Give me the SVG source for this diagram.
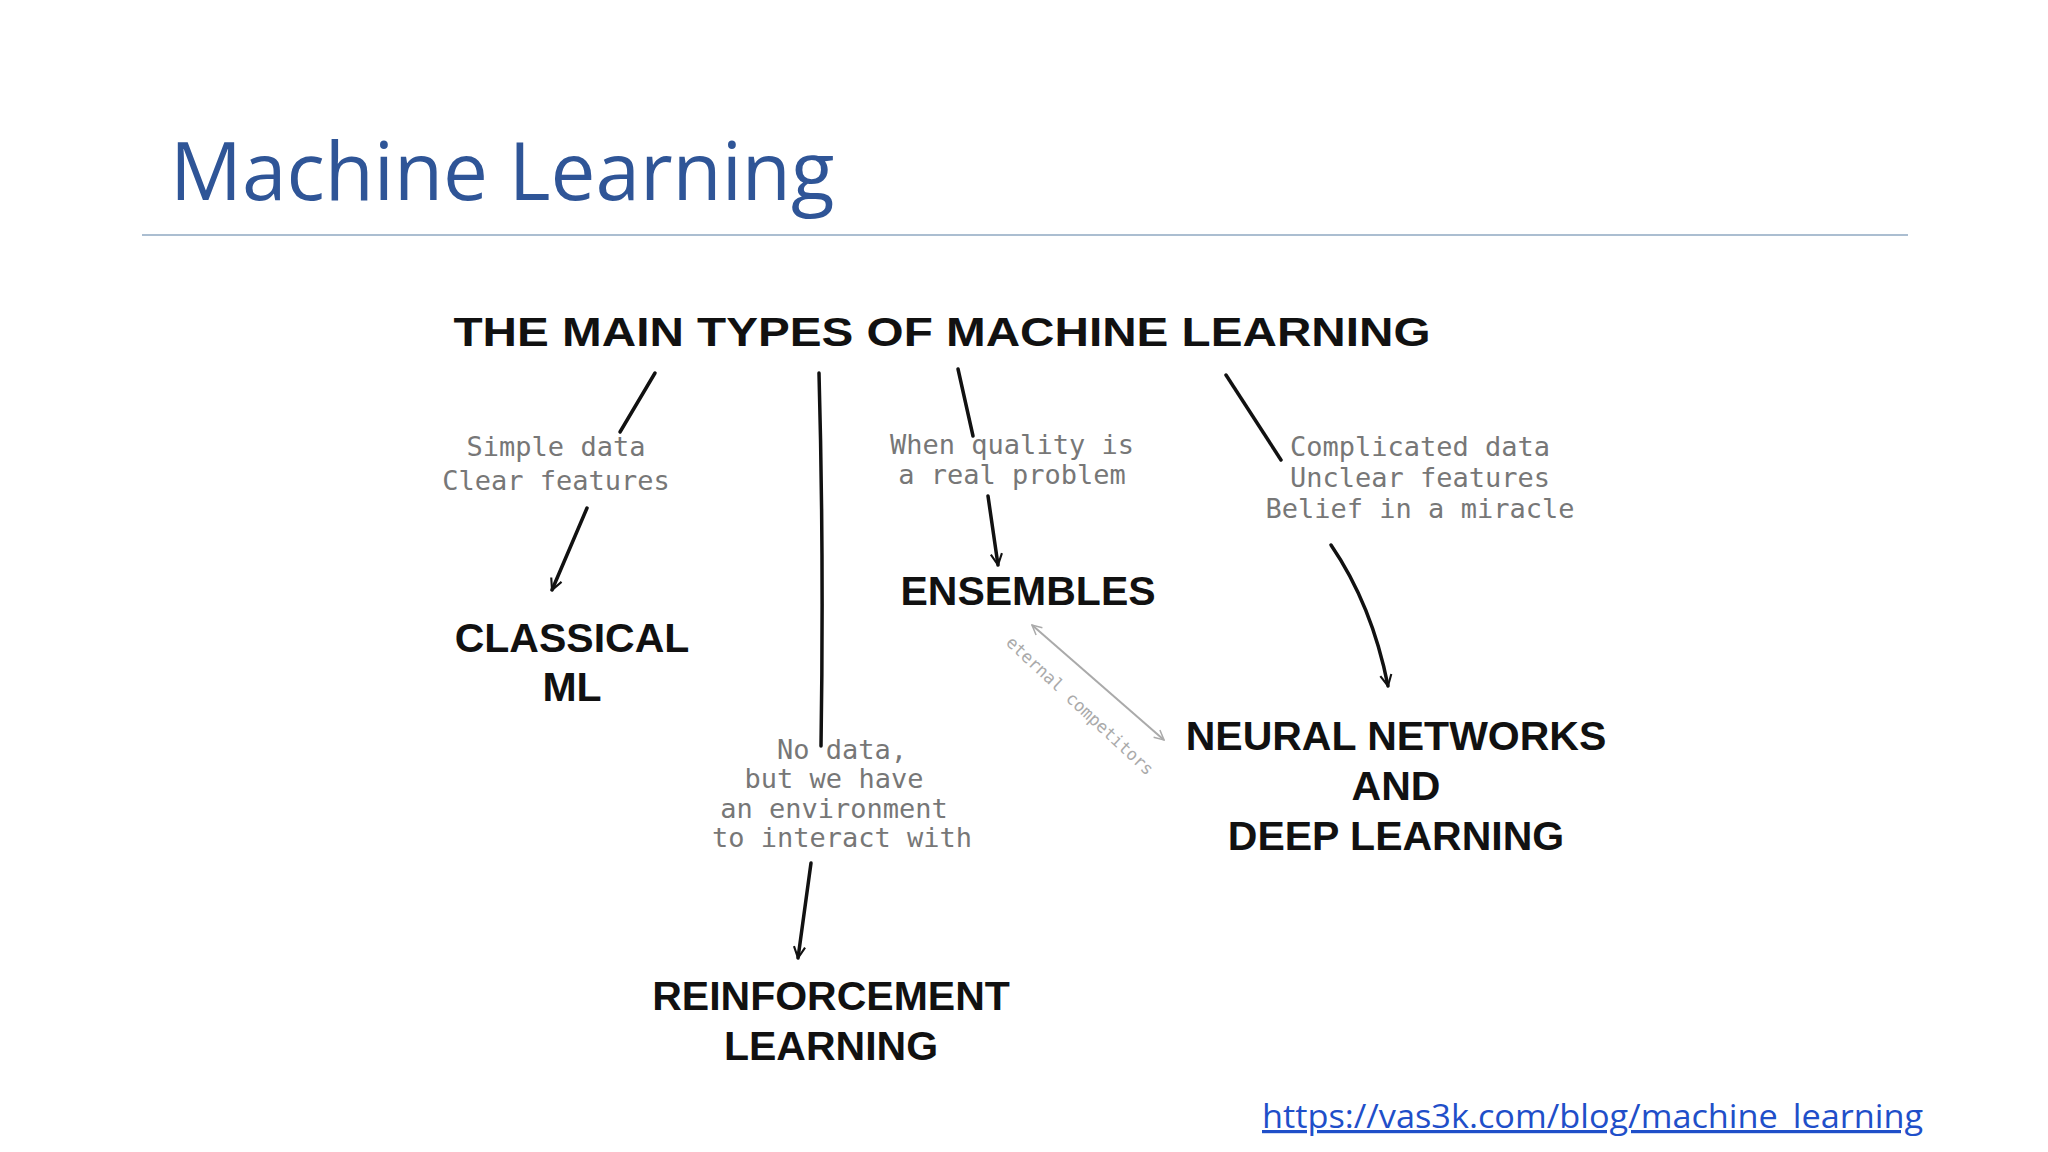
<svg xmlns="http://www.w3.org/2000/svg" width="2048" height="1152" viewBox="0 0 2048 1152">
<defs>
<style>
.h{font-family:"Liberation Sans",Arial,sans-serif;font-weight:bold;font-size:41px;fill:#111;text-anchor:middle}
.g{font-family:"DejaVu Sans Mono","Liberation Mono",monospace;font-size:27px;fill:#777;text-anchor:middle}
.ln{fill:none;stroke:#111;stroke-width:3.5;stroke-linecap:round}
</style>
<marker id="a" viewBox="0 0 20 20" refX="18" refY="10" markerWidth="14" markerHeight="14" markerUnits="userSpaceOnUse" orient="auto"><path d="M2 2 L18 10 L2 18" fill="none" stroke="#111" stroke-width="3"/></marker>
<marker id="b" viewBox="0 0 20 20" refX="18" refY="10" markerWidth="12" markerHeight="12" markerUnits="userSpaceOnUse" orient="auto-start-reverse"><path d="M2 2 L18 10 L2 18" fill="none" stroke="#aaa" stroke-width="2.5"/></marker>
</defs>
<rect width="2048" height="1152" fill="#fff"/>
<text x="170" y="200" font-family="'Open Sans','Noto Sans',sans-serif" font-size="80" fill="#2F5597">Machine Learning</text>
<line x1="142" y1="235" x2="1908" y2="235" stroke="#8FA9C2" stroke-width="1.5"/>
<g id="title"><text class="h" x="942" y="346" font-size="45" textLength="977" lengthAdjust="spacingAndGlyphs">THE MAIN TYPES OF MACHINE LEARNING</text></g>
<g id="connectors">
<path class="ln" d="M655 373 L620 432"/>
<path class="ln" d="M587 508 L552 590" marker-end="url(#a)"/>
<path class="ln" d="M819 373 Q824 555 821 746"/>
<path class="ln" d="M811 863 L798 958" marker-end="url(#a)"/>
<path class="ln" d="M958 369 L973 436"/>
<path class="ln" d="M988 496 L998 565" marker-end="url(#a)"/>
<path class="ln" d="M1226 375 L1281 460"/>
<path class="ln" d="M1331 545 Q1372 605 1388 686" marker-end="url(#a)"/>
<path d="M1032 625 L1164 740" stroke="#aaa" stroke-width="2" fill="none" marker-start="url(#b)" marker-end="url(#b)"/>
</g>
<g id="classical">
<text class="g" x="556" y="456">Simple data</text>
<text class="g" x="556" y="490">Clear features</text>
<text class="h" x="572" y="652">CLASSICAL</text>
<text class="h" x="572" y="701">ML</text>
</g>
<g id="reinforcement">
<text class="g" x="842" y="759">No data,</text>
<text class="g" x="834" y="788">but we have</text>
<text class="g" x="834" y="818">an environment</text>
<text class="g" x="842" y="847">to interact with</text>
<text class="h" x="831" y="1010">REINFORCEMENT</text>
<text class="h" x="831" y="1060">LEARNING</text>
</g>
<g id="ensembles">
<text class="g" x="1012" y="454">When quality is</text>
<text class="g" x="1012" y="484">a real problem</text>
<text class="h" x="1028" y="605">ENSEMBLES</text>
<text class="g" transform="translate(1076 710) rotate(43)" style="fill:#aaa;font-size:17px">eternal competitors</text>
</g>
<g id="neural">
<text class="g" x="1420" y="456">Complicated data</text>
<text class="g" x="1420" y="487">Unclear features</text>
<text class="g" x="1420" y="518">Belief in a miracle</text>
<text class="h" x="1396" y="750">NEURAL NETWORKS</text>
<text class="h" x="1396" y="800">AND</text>
<text class="h" x="1396" y="850">DEEP LEARNING</text>
</g>
<text x="1262" y="1128" font-family="'Open Sans','Noto Sans',sans-serif" font-size="32" fill="#1F4FC9" text-decoration="underline" textLength="661" lengthAdjust="spacingAndGlyphs">https://vas3k.com/blog/machine_learning</text>
</svg>
